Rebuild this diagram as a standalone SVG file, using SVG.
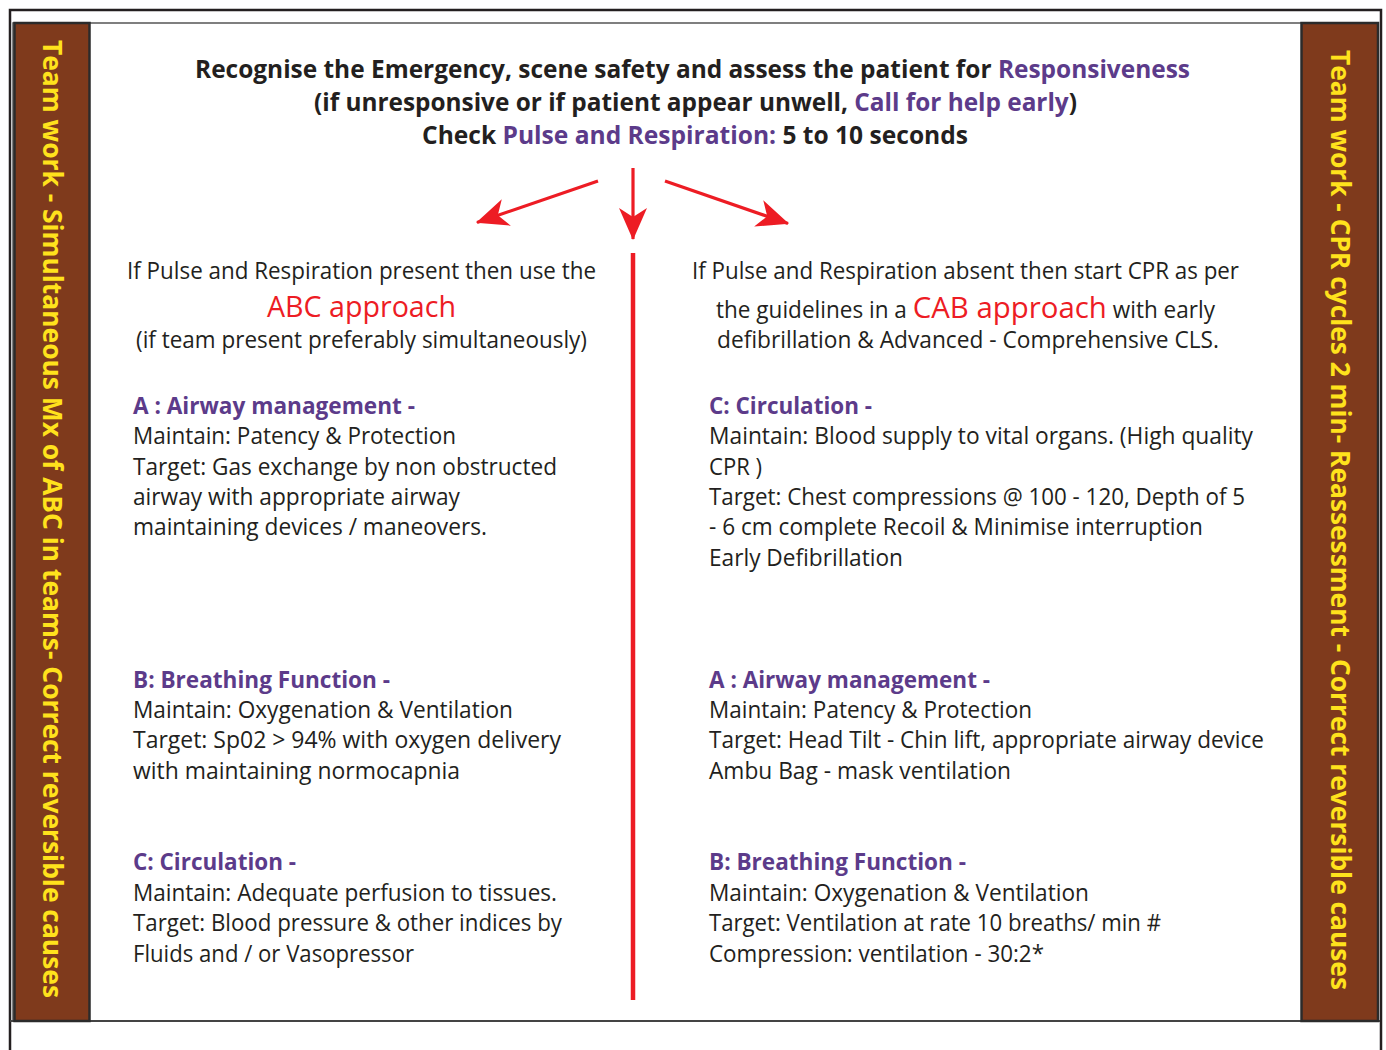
<svg xmlns="http://www.w3.org/2000/svg" width="1386" height="1050" viewBox="0 0 1386 1050">
<style>
.t{font-family:"Open Sans","DejaVu Sans",sans-serif;fill:#231f20;}
.b{font-weight:bold;}
.body{font-size:23px;}
.h{font-size:23px;font-weight:bold;fill:#5c3b8a;}
.p{fill:#5c3b8a;}
.r{fill:#ed1c24;}
.side{font-family:"Open Sans","DejaVu Sans",sans-serif;font-weight:bold;font-size:26px;fill:#ffe21c;}
.bar{fill:#7f3a1c;stroke:#2b2b2b;stroke-width:2.5;}
.arr{stroke:#ed1c24;stroke-width:3.2;fill:none;}
</style>
<defs>
<marker id="ah" markerUnits="userSpaceOnUse" markerWidth="36" markerHeight="30" refX="31" refY="14" orient="auto" overflow="visible">
<path d="M0,0 L32,14 L0,28 L9,14 Z" fill="#ed1c24"/>
</marker>
</defs>
<rect width="1386" height="1050" fill="#ffffff"/>
<g id="frame">
<path d="M10,1050 L10,10 L1381,10 L1381,1050" fill="none" stroke="#231f20" stroke-width="2.5"/>
<path d="M13,1021 L13,23 L1379,23" fill="none" stroke="#555" stroke-width="1.5"/>
<line x1="10" y1="1021" x2="1380" y2="1021" stroke="#444" stroke-width="2"/>
</g>
<g id="left-bar">
<rect class="bar" x="14.5" y="23" width="75" height="998"/>
<text class="side" transform="translate(43,40) rotate(90)" textLength="958" lengthAdjust="spacingAndGlyphs">Team work - Simultaneous Mx of ABC in teams- Correct reversible causes</text>
</g>
<g id="right-bar">
<rect class="bar" x="1301.5" y="23" width="76.5" height="998"/>
<text class="side" transform="translate(1331,50) rotate(90)" textLength="940" lengthAdjust="spacingAndGlyphs">Team work - CPR cycles 2 min- Reassessment - Correct reversible causes</text>
</g>
<g id="header">
<text class="t b" x="195" y="78" font-size="25" textLength="995" lengthAdjust="spacingAndGlyphs">Recognise the Emergency, scene safety and assess the patient for <tspan class="p">Responsiveness</tspan></text>
<text class="t b" x="314" y="111" font-size="25" textLength="763" lengthAdjust="spacingAndGlyphs">(if unresponsive or if patient appear unwell, <tspan class="p">Call for help early</tspan>)</text>
<text class="t b" x="422" y="144" font-size="25" textLength="546" lengthAdjust="spacingAndGlyphs">Check <tspan class="p">Pulse and Respiration:</tspan> 5 to 10 seconds</text>
</g>
<g id="connectors">
<line class="arr" x1="598" y1="181" x2="477" y2="222.5" marker-end="url(#ah)"/>
<line class="arr" x1="633" y1="168" x2="633" y2="239" marker-end="url(#ah)"/>
<line class="arr" x1="665" y1="181" x2="788" y2="223.5" marker-end="url(#ah)"/>
<line x1="633" y1="253" x2="633" y2="1000" stroke="#ed1c24" stroke-width="4.5"/>
</g>
<g id="abc-intro">
<text class="t body" x="127" y="279" textLength="469" lengthAdjust="spacingAndGlyphs">If Pulse and Respiration present then use the</text>
<text class="t r" x="267" y="317" font-size="30" textLength="189" lengthAdjust="spacingAndGlyphs">ABC approach</text>
<text class="t body" x="136" y="348" textLength="451" lengthAdjust="spacingAndGlyphs">(if team present preferably simultaneously)</text>
</g>
<g id="cab-intro">
<text class="t body" x="692" y="279" textLength="547" lengthAdjust="spacingAndGlyphs">If Pulse and Respiration absent then start CPR as per</text>
<text class="t body" x="716" y="318" textLength="499" lengthAdjust="spacingAndGlyphs">the guidelines in a <tspan class="r" font-size="30">CAB approach</tspan> with early</text>
<text class="t body" x="717" y="348" textLength="502" lengthAdjust="spacingAndGlyphs">defibrillation &amp; Advanced - Comprehensive CLS.</text>
</g>
<g id="left-airway">
<text class="t h" x="133" y="414" textLength="282" lengthAdjust="spacingAndGlyphs">A : Airway management -</text>
<text class="t body" x="133" y="444" textLength="323" lengthAdjust="spacingAndGlyphs">Maintain: Patency &amp; Protection</text>
<text class="t body" x="133" y="475" textLength="424" lengthAdjust="spacingAndGlyphs">Target: Gas exchange by non obstructed</text>
<text class="t body" x="133" y="505" textLength="327" lengthAdjust="spacingAndGlyphs">airway with appropriate airway</text>
<text class="t body" x="133" y="535" textLength="354" lengthAdjust="spacingAndGlyphs">maintaining devices / maneovers.</text>
</g>
<g id="left-breathing">
<text class="t h" x="133" y="688" textLength="257" lengthAdjust="spacingAndGlyphs">B: Breathing Function -</text>
<text class="t body" x="133" y="718" textLength="380" lengthAdjust="spacingAndGlyphs">Maintain: Oxygenation &amp; Ventilation</text>
<text class="t body" x="133" y="748" textLength="428" lengthAdjust="spacingAndGlyphs">Target: Sp02 &gt; 94% with oxygen delivery</text>
<text class="t body" x="133" y="779" textLength="327" lengthAdjust="spacingAndGlyphs">with maintaining normocapnia</text>
</g>
<g id="left-circulation">
<text class="t h" x="133" y="870" textLength="163" lengthAdjust="spacingAndGlyphs">C: Circulation -</text>
<text class="t body" x="133" y="901" textLength="424" lengthAdjust="spacingAndGlyphs">Maintain: Adequate perfusion to tissues.</text>
<text class="t body" x="133" y="931" textLength="429" lengthAdjust="spacingAndGlyphs">Target: Blood pressure &amp; other indices by</text>
<text class="t body" x="133" y="962" textLength="281" lengthAdjust="spacingAndGlyphs">Fluids and / or Vasopressor</text>
</g>
<g id="right-circulation">
<text class="t h" x="709" y="414" textLength="163" lengthAdjust="spacingAndGlyphs">C: Circulation -</text>
<text class="t body" x="709" y="444" textLength="544" lengthAdjust="spacingAndGlyphs">Maintain: Blood supply to vital organs. (High quality</text>
<text class="t body" x="709" y="475" textLength="53" lengthAdjust="spacingAndGlyphs">CPR )</text>
<text class="t body" x="709" y="505" textLength="536" lengthAdjust="spacingAndGlyphs">Target: Chest compressions @ 100 - 120, Depth of 5</text>
<text class="t body" x="709" y="535" textLength="494" lengthAdjust="spacingAndGlyphs">- 6 cm complete Recoil &amp; Minimise interruption</text>
<text class="t body" x="709" y="566" textLength="194" lengthAdjust="spacingAndGlyphs">Early Defibrillation</text>
</g>
<g id="right-airway">
<text class="t h" x="709" y="688" textLength="281" lengthAdjust="spacingAndGlyphs">A : Airway management -</text>
<text class="t body" x="709" y="718" textLength="323" lengthAdjust="spacingAndGlyphs">Maintain: Patency &amp; Protection</text>
<text class="t body" x="709" y="748" textLength="555" lengthAdjust="spacingAndGlyphs">Target: Head Tilt - Chin lift, appropriate airway device</text>
<text class="t body" x="709" y="779" textLength="302" lengthAdjust="spacingAndGlyphs">Ambu Bag - mask ventilation</text>
</g>
<g id="right-breathing">
<text class="t h" x="709" y="870" textLength="257" lengthAdjust="spacingAndGlyphs">B: Breathing Function -</text>
<text class="t body" x="709" y="901" textLength="380" lengthAdjust="spacingAndGlyphs">Maintain: Oxygenation &amp; Ventilation</text>
<text class="t body" x="709" y="931" textLength="452" lengthAdjust="spacingAndGlyphs">Target: Ventilation at rate 10 breaths/ min #</text>
<text class="t body" x="709" y="962" textLength="335" lengthAdjust="spacingAndGlyphs">Compression: ventilation - 30:2*</text>
</g>
</svg>
